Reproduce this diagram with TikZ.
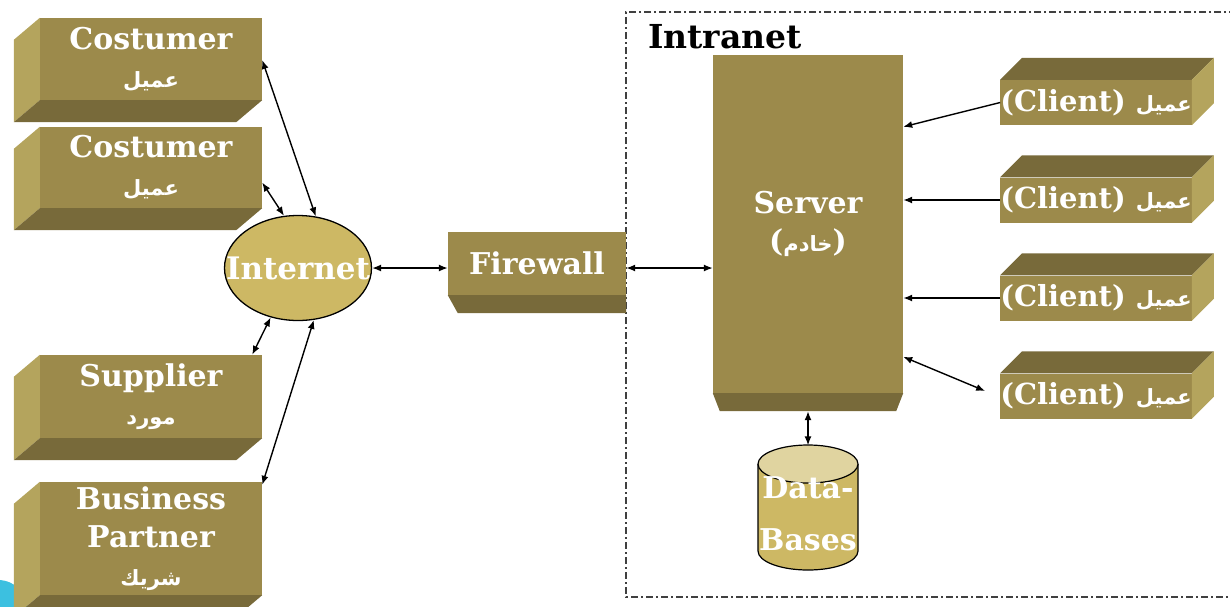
\documentclass[tikz,border=0pt]{standalone}
\usepackage{fontspec}
\setmainfont{DejaVu Serif}
\newfontfamily\arabicfont[Script=Arabic]{DejaVu Sans}
\TeXXeTstate=1
\usetikzlibrary{arrows.meta,calc,shapes.geometric}
\definecolor{front}{HTML}{9C8A4B}
\definecolor{lightside}{HTML}{B4A45D}
\definecolor{darkside}{HTML}{786A3A}
\definecolor{goldfill}{HTML}{CDB864}
\definecolor{goldtop}{HTML}{E0D4A0}
\definecolor{logocyan}{HTML}{3CC0E0}
\newcommand\arab[1]{{\arabicfont\bfseries\fontsize{21}{24}\selectfont\beginR #1\endR}}
\begin{document}
\begin{tikzpicture}[x=1pt,y=-1pt,
  face/.style={fill=front, draw=none, inner sep=0pt, text=white, align=center,
    font=\bfseries\fontsize{30}{38}\selectfont},
  lside/.style={fill=lightside},
  dside/.style={fill=darkside},
  tip/.tip={Latex[length=9pt,width=7pt]},
  link/.style={line width=1.4pt, black, tip-tip},
  tolink/.style={line width=1.4pt, black, -tip},
  frame/.style={draw=black!75, line width=1.2pt, dash pattern=on 7pt off 3pt on 2pt off 3pt},
  cyl/.style={draw=black, line width=1.2pt}]
\useasboundingbox (0,0) rectangle (1230,606);

% logo fragment
\fill[logocyan] (-2,610) circle (30pt);

% intranet frame
\draw[frame] (1236,12) -- (626,12) -- (626,597) -- (1236,597);
\node[anchor=west, inner sep=0pt, font=\bfseries\fontsize{33}{38}\selectfont] (intra) at (648,37) {Intranet};

% left blocks
\node[face, minimum width=222pt, minimum height=82pt] (c1) at (151,59) {Costumer\\\arab{عميل}};
\node[face, minimum width=222pt, minimum height=81pt] (c2) at (151,167.5) {Costumer\\\arab{عميل}};
\node[face, minimum width=222pt, minimum height=83pt] (sup) at (151,396.5) {Supplier\\\arab{مورد}};
\node[face, minimum width=222pt, minimum height=113pt] (bp) at (151,538.5) {Business\\Partner\\\arab{شريك}};
\foreach \n in {c1,c2,sup,bp}{
  \fill[lside] (\n.north west) -- ++(-26,22) -- ([shift={(-26,22)}]\n.south west) -- (\n.south west) -- cycle;
  \fill[dside] (\n.south west) -- ++(-26,22) -- ([shift={(-26,22)}]\n.south east) -- (\n.south east) -- cycle;
}

% internet
\node[ellipse, draw=black, line width=1.3pt, fill=goldfill, minimum width=147pt, minimum height=105pt,
  inner sep=0pt, text=white, font=\bfseries\fontsize{31}{36}\selectfont] (int) at (298,268) {\makebox[0pt]{Internet}};

% firewall
\node[face, minimum width=178pt, minimum height=63pt] (fw) at (537,263.5) {Firewall};
\fill[dside] (fw.south west) -- (fw.south east) -- ++(0,18) -- ([shift={(10,18)}]fw.south west) -- cycle;

% server
\node[face, minimum width=190pt, minimum height=338pt] (srv) at (808,224) {Server\\(\arab{خادم})};
\fill[dside] (srv.south west) -- (srv.south east) -- ++(-7,18) -- ([shift={(7,18)}]srv.south west) -- cycle;

% clients
\foreach \n/\y in {cl1/102.5, cl2/200, cl3/298, cl4/396}{
  \node[face, minimum width=188pt, minimum height=45pt, font=\bfseries\fontsize{29}{34}\selectfont] (\n) at (1096,\y) {(Client) \arab{عميل}};
  \fill[dside] (\n.north west) -- ++(22,-22) -- ([shift={(22,-22)}]\n.north east) -- (\n.north east) -- cycle;
  \fill[lside] (\n.north east) -- ++(22,-22) -- ([shift={(22,-22)}]\n.south east) -- (\n.south east) -- cycle;
}

% database cylinder
\fill[goldfill] (758,464) -- (758,551) arc[start angle=180, end angle=360, x radius=50pt, y radius=19pt] -- (858,464) -- cycle;
\draw[cyl] (758,464) -- (758,551) arc[start angle=180, end angle=360, x radius=50pt, y radius=19pt] -- (858,464);
\draw[cyl, fill=goldtop] (808,464) ellipse [x radius=50pt, y radius=19pt];
\node[inner sep=0pt, minimum width=100pt, minimum height=137pt, text=white, align=center,
  font=\bfseries\fontsize{30}{52}\selectfont] (db) at (808,514) {Data-\\Bases};

% connectors
\draw[link] ([yshift=-1pt]c1.east) -- (int.71);
\draw[link] ([yshift=-15pt]c2.east) -- (int.105);
\draw[link] ([xshift=-10pt]sup.north east) -- (int.241);
\draw[link] ([yshift=-3pt]bp.north east) -- (int.287);
\draw[link] (int.east) -- (fw.west |- int.east);
\draw[link] (fw.east |- int.east) -- (srv.west |- int.east);
\draw[tolink] (cl1.west) -- ([yshift=-72pt]srv.north east);
\draw[tolink] (cl2.west) -- (srv.east |- cl2.west);
\draw[tolink] (cl3.west) -- (srv.east |- cl3.west);
\draw[link] ([xshift=-15pt,yshift=5pt]cl4.west) -- ([yshift=-302pt]srv.north east);
\draw[link] ([yshift=-18pt]srv.south) -- (db.north);
\end{tikzpicture}
\end{document}
